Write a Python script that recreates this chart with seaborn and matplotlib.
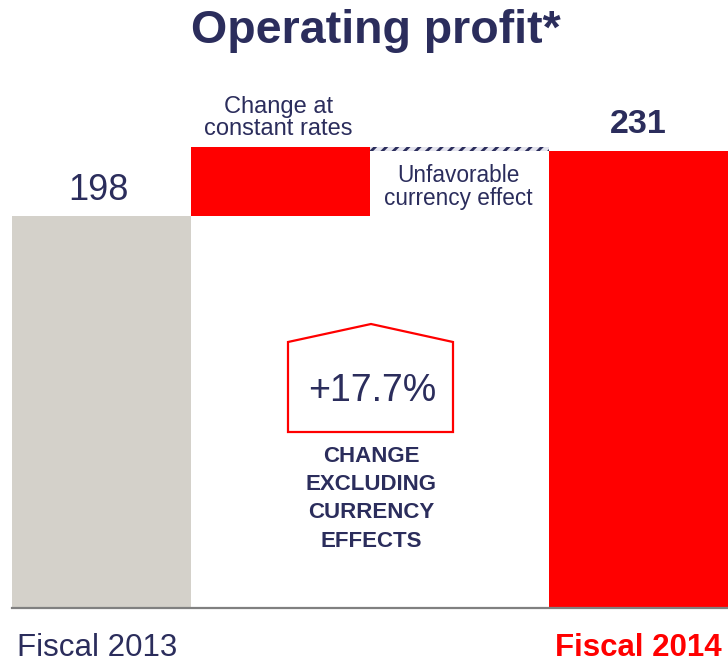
import matplotlib
matplotlib.use("Agg")
import matplotlib.pyplot as plt
from matplotlib.patches import Polygon
from matplotlib.transforms import ScaledTranslation
import seaborn as sns

# Waterfall values (EUR m)
steps = ["Fiscal 2013", "Change at constant rates", "Unfavorable currency effect", "Fiscal 2014"]
fy2013 = 198
change_constant = 35
currency_effect = -2
fy2014 = 231
change_pct_label = "+17.7%"
tick_labels = ["Fiscal 2013", "", "", "Fiscal 2014"]

NAVY = "#2b2d5c"
RED = "#ff0000"
GREY = "#d4d1ca"

sns.set_theme(style="white")
plt.rcParams["font.family"] = ["Liberation Sans", "DejaVu Sans"]
plt.rcParams["hatch.linewidth"] = 2.0

# bar tops and floating bases for each step
tops = [fy2013, fy2013 + change_constant, fy2013 + change_constant, fy2014]
bases = [0, fy2013, fy2014, 0]

fig = plt.figure(figsize=(7.28, 6.66), dpi=100)
W, H = 728, 666
ax = fig.add_axes([12 / W, 58 / H, 716 / W, 518 / H])

sns.barplot(x=steps, y=tops, hue=steps, palette=[GREY, RED, "white", RED],
            width=1.0, saturation=1, legend=False, ax=ax, linewidth=0)
sns.barplot(x=steps, y=bases, color="white", width=1.0, saturation=1,
            ax=ax, linewidth=0)

# currency effect drawn as a hatched band
band = ax.patches[2]
band.set_facecolor("#e4e4ee")
band.set_edgecolor(NAVY)
band.set_hatch("///")
band.set_linewidth(0)
band.set_zorder(3)
ax.patches[6].set_zorder(4)

ax.set_xlim(-0.5, 3.5)
ax.set_ylim(0, 261.6)
for s in ["top", "left", "right"]:
    ax.spines[s].set_visible(False)
ax.spines["bottom"].set_color("#808080")
ax.spines["bottom"].set_linewidth(1.6)
ax.spines["bottom"].set_zorder(5)
ax.set_yticks([])
ax.set_xticks(range(len(steps)))
ax.set_xticklabels(tick_labels, fontsize=22.5)
ax.tick_params(axis="x", length=0, pad=18)
labels = ax.get_xticklabels()
labels[0].set_color(NAVY)
labels[0].set_transform(labels[0].get_transform()
                        + ScaledTranslation(-4 / 100, 0, fig.dpi_scale_trans))
labels[3].set_color(RED)
labels[3].set_fontweight("bold")
ax.set_ylabel("")

# values on the total bars
ax.annotate(f"{fy2013}", xy=(0, fy2013), xytext=(-3, 16), textcoords="offset pixels",
            ha="center", va="baseline", fontsize=26, color=NAVY)
ax.annotate(f"{fy2014}", xy=(3, fy2014), xytext=(0, 18), textcoords="offset pixels",
            ha="center", va="baseline", fontsize=24.5, color=NAVY, fontweight="bold")

# step captions
ax.annotate("Change at\nconstant rates", xy=(1, tops[1]), xytext=(-2, 12),
            textcoords="offset pixels", ha="center", va="baseline",
            fontsize=17, color=NAVY, linespacing=0.95, multialignment="center",
            zorder=6)
ax.annotate("Unfavorable\ncurrency effect", xy=(2, tops[2]), xytext=(-1, -58),
            textcoords="offset pixels", ha="center", va="baseline",
            fontsize=16.3, color=NAVY, linespacing=0.98, multialignment="center",
            zorder=6)

# title
fig.text(376 / W, 1 - 43 / H, "Operating profit*", ha="center", va="baseline",
         fontsize=33.5, fontweight="bold", color=NAVY)

# house-shaped callout with the change excluding currency effects
pts = [(288, 342), (371, 324), (453, 342), (453, 432), (288, 432)]
house = Polygon([(x / W, 1 - y / H) for x, y in pts], closed=True, fill=False,
                edgecolor=RED, linewidth=1.6, transform=fig.transFigure)
fig.add_artist(house)
fig.text(372 / W, 1 - 401 / H, change_pct_label, ha="center", va="baseline",
         fontsize=27, color=NAVY)
fig.text(371 / W, 1 - 446 / H, "CHANGE\nEXCLUDING\nCURRENCY\nEFFECTS", ha="center",
         va="top", fontsize=16, fontweight="bold", color=NAVY, linespacing=1.45,
         multialignment="center")

fig.savefig("out.png", dpi=100)
